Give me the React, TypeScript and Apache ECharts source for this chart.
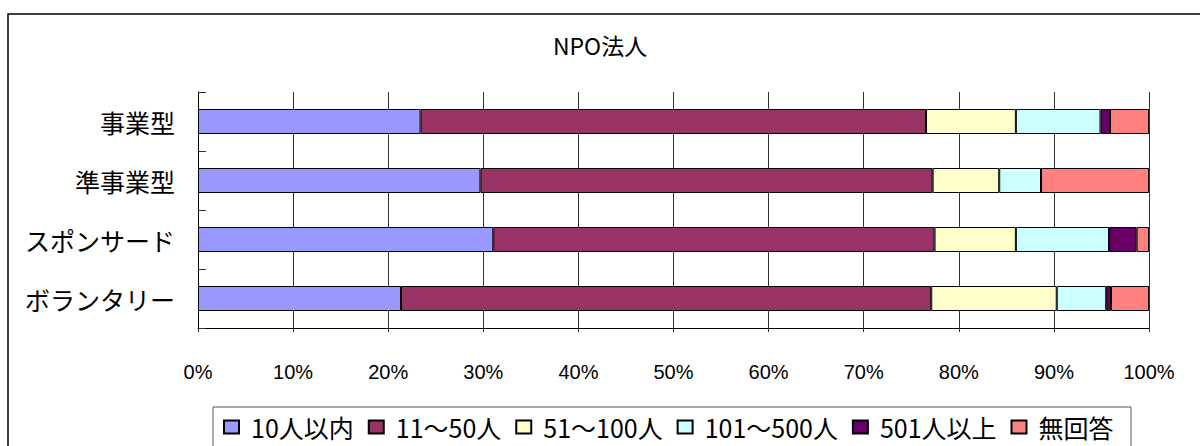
import React, { useEffect, useRef } from "react";
import * as echarts from "echarts";

const categories = ["事業型", "準事業型", "スポンサード", "ボランタリー"];
const seriesNames = ["10人以内", "11～50人", "51～100人", "101～500人", "501人以上", "無回答"];
const s10 = [23.4, 29.7, 31.05, 21.35];
const s11to50 = [53.15, 47.55, 46.4, 55.75];
const s51to100 = [9.45, 7.0, 8.55, 13.2];
const s101to500 = [8.9, 4.4, 9.8, 5.2];
const s501 = [1.0, 0, 2.9, 0.5];
const sNone = [4.1, 11.35, 1.3, 4.0];
const colors = ["#9999FF", "#993366", "#FFFFCC", "#CCFFFF", "#660066", "#FF8080"];
const title = "NPO法人";

export default function App() {
  const ref = useRef<HTMLDivElement>(null);
  useEffect(() => {
    if (!ref.current) return;
    const chart = echarts.init(ref.current, null, { renderer: "svg" });
    const data = [s10, s11to50, s51to100, s101to500, s501, sNone];
    const cjk = "'Noto Sans CJK JP', 'Noto Sans', sans-serif";
    chart.setOption({
      animation: false,
      backgroundColor: "#fff",
      title: {
        text: title,
        left: "center",
        top: 33,
        padding: 0,
        textStyle: { fontFamily: cjk, fontSize: 23, fontWeight: "normal", color: "#000" },
      },
      legend: {
        left: 223,
        top: 413,
        padding: 0,
        itemWidth: 15,
        itemHeight: 13,
        itemGap: 14,
        icon: "rect",
        textStyle: {
          fontFamily: cjk,
          fontSize: 25,
          color: "#000",
          lineHeight: 28,
          padding: [0, 0, 0, 7],
        },
        data: seriesNames,
      },
      grid: { left: 198, right: 51, top: 92, bottom: 118 },
      xAxis: {
        type: "value",
        min: 0,
        max: 100,
        interval: 10,
        axisLine: { show: true, lineStyle: { color: "#000", width: 1 } },
        axisTick: { show: true, length: 4, lineStyle: { color: "#333" } },
        splitLine: { show: true, lineStyle: { color: "#333", width: 1 } },
        axisLabel: {
          formatter: "{value}%",
          margin: 34,
          fontFamily: "'Liberation Sans', sans-serif",
          fontSize: 20,
          color: "#000",
        },
      },
      yAxis: {
        type: "category",
        inverse: true,
        data: categories,
        axisLine: { show: true, lineStyle: { color: "#000", width: 1 } },
        axisTick: { show: true, inside: true, length: 8, lineStyle: { color: "#333" } },
        axisLabel: { margin: 23, fontFamily: cjk, fontSize: 25, color: "#000" },
      },
      graphic: [
        {
          type: "rect",
          shape: { x: 8, y: 14, width: 1300, height: 500 },
          style: { fill: "none", stroke: "#000", lineWidth: 1.5 },
          silent: true,
        },
        {
          type: "rect",
          shape: { x: 213, y: 407, width: 918, height: 100 },
          style: { fill: "none", stroke: "#555", lineWidth: 1 },
          silent: true,
        },
      ],
      series: seriesNames.map((name, i) => ({
        name,
        type: "bar",
        stack: "total",
        barWidth: 25,
        data: data[i],
        itemStyle: { color: colors[i], borderColor: "#000", borderWidth: 1 },
      })),
    });
    return () => chart.dispose();
  }, []);
  return (
    <div
      ref={ref}
      style={{ position: "fixed", left: 0, top: 0, width: 1200, height: 446 }}
    />
  );
}
